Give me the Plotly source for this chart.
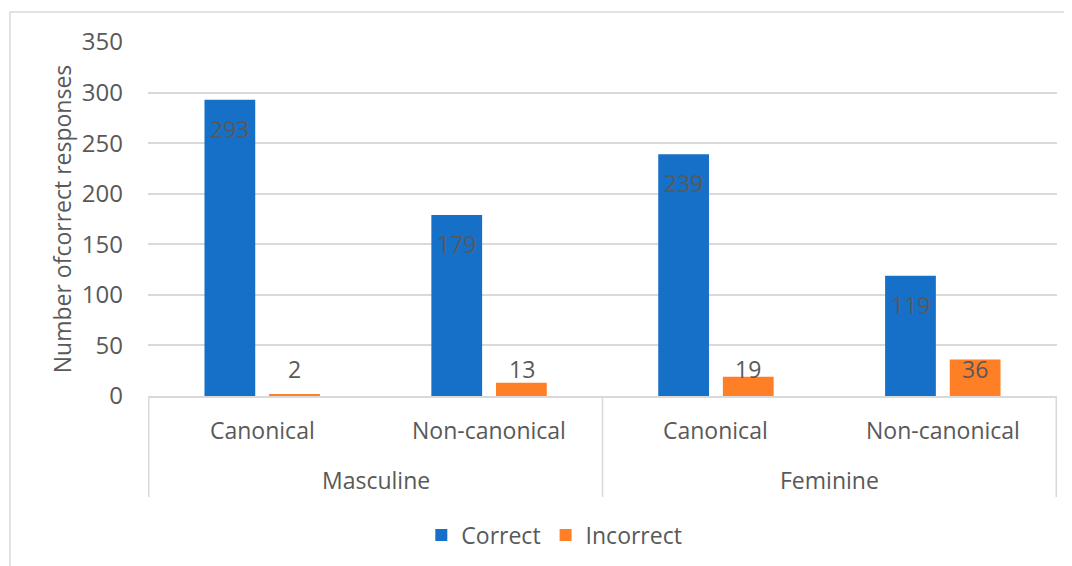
import plotly.graph_objects as go

genders = ["Masculine", "Masculine", "Feminine", "Feminine"]
forms = ["Canonical", "Non-canonical", "Canonical", "Non-canonical"]
correct = [293, 179, 239, 119]
incorrect = [2, 13, 19, 36]

BLUE = "#1670c8"
ORANGE = "#fe7f26"
GREY = "#595959"
GRID = "#d9d9d9"
FONT = "Open Sans"
FS = 23

fig = go.Figure()
fig.add_trace(go.Bar(x=[genders, forms], y=correct, name="Correct",
                     marker=dict(color=BLUE, line=dict(width=0))))
fig.add_trace(go.Bar(x=[genders, forms], y=incorrect, name="Incorrect",
                     marker=dict(color=ORANGE, line=dict(width=0))))

# data labels placed like Excel's
for i, (c, w) in enumerate(zip(correct, incorrect)):
    fig.add_annotation(x=i, y=c, text=str(c), showarrow=False, xshift=-32.5, yshift=-29,
                       font=dict(size=FS, color=GREY, family=FONT))
    fig.add_annotation(x=i, y=0, text=str(w), showarrow=False, xshift=32.5, yshift=27,
                       font=dict(size=FS, color=GREY, family=FONT))

# two-level category labels drawn by hand (Excel spacing)
for i, f in enumerate(forms):
    fig.add_annotation(x=i, xref="x", y=-0.096, yref="paper", yanchor="middle", text=f,
                       showarrow=False, font=dict(size=FS, color=GREY, family=FONT))
groups = []
for g in genders:
    if g not in groups:
        groups.append(g)
for k, g in enumerate(groups):
    fig.add_annotation(x=2 * k + 0.5, xref="x", y=-0.237, yref="paper", yanchor="middle", text=g,
                       showarrow=False, font=dict(size=FS, color=GREY, family=FONT))
for xd in [-0.5, 1.5, 3.5]:
    fig.add_shape(type="line", xref="x", yref="paper", x0=xd, x1=xd, y0=0, y1=-0.285,
                  line=dict(color=GRID, width=1.5))

# chart area border
fig.add_shape(type="rect", xref="paper", yref="paper", x0=-0.1518, x1=1.05, y0=-0.56, y1=1.0847,
              line=dict(color=GRID, width=1.5), fillcolor="rgba(0,0,0,0)", layer="below")

fig.update_layout(
    width=1072, height=566,
    margin=dict(l=140, r=23, t=34, b=178),
    plot_bgcolor="white", paper_bgcolor="white",
    font=dict(family=FONT, color=GREY, size=FS),
    barmode="group", bargap=0.43, bargroupgap=0.215,
    showlegend=True,
    legend=dict(orientation="h", x=0.447, xanchor="center", y=-0.393, yanchor="middle",
                font=dict(size=FS, color=GREY), itemwidth=30, traceorder="normal"),
)
fig.update_xaxes(type="multicategory", showline=True, linecolor=GRID, linewidth=1.5,
                 showgrid=False, showdividers=False, showticklabels=False)
fig.update_yaxes(range=[0, 350], dtick=50, showgrid=True, gridcolor=GRID, gridwidth=1.5,
                 zeroline=False, showline=False, ticklabelstandoff=24,
                 tickfont=dict(size=24, color=GREY),
                 title=dict(text="Number ofcorrect responses", font=dict(size=FS, color=GREY), standoff=3))

fig.write_html("out.html")
